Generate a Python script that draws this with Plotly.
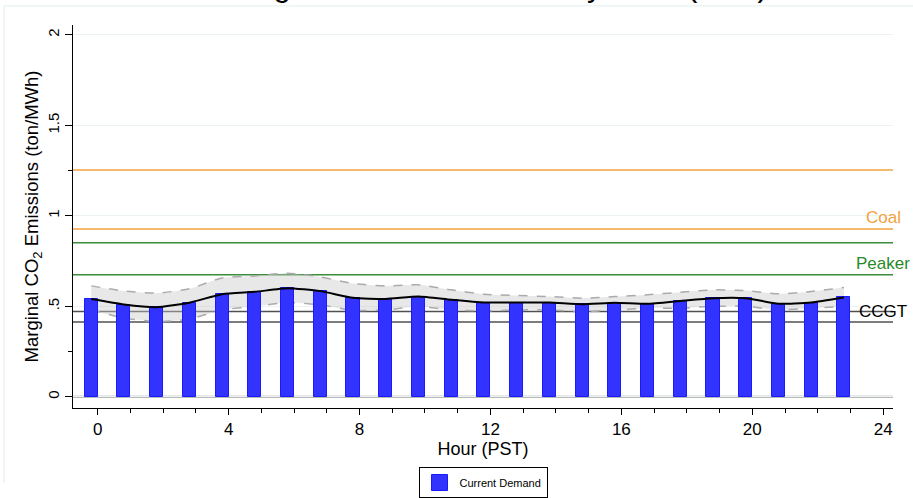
import plotly.graph_objects as go
import numpy as np

hours = list(range(24))
marginal_emissions = [0.54, 0.51, 0.495, 0.52, 0.567, 0.58, 0.60, 0.584, 0.547, 0.541,
                      0.554, 0.536, 0.521, 0.521, 0.521, 0.512, 0.52, 0.514, 0.53, 0.545,
                      0.545, 0.514, 0.521, 0.549]
upper_ci = [0.613, 0.585, 0.573, 0.597, 0.657, 0.668, 0.683, 0.663, 0.626, 0.613,
            0.619, 0.591, 0.567, 0.56, 0.554, 0.545, 0.554, 0.564, 0.578, 0.591,
            0.587, 0.569, 0.582, 0.604]
lower_ci = [0.48, 0.435, 0.416, 0.429, 0.48, 0.499, 0.521, 0.508, 0.478, 0.48,
            0.499, 0.48, 0.475, 0.48, 0.48, 0.47, 0.48, 0.49, 0.49, 0.5,
            0.5, 0.48, 0.49, 0.5]

coal_levels = [0.928, 1.254]
peaker_levels = [0.674, 0.851]
ccgt_levels = [0.413, 0.471]

y_tickvals = [0, 0.5, 1, 1.5, 2]
y_ticktext = ["0", ".5", "1", "1.5", "2"]
x_tickvals = [0, 4, 8, 12, 16, 20, 24]

FONT = "Liberation Sans, Arial, sans-serif"
ORANGE = "#F2A23F"
GREEN = "#3C8C3C"
GREEN_TXT = "#2A8A2A"
BLUE = "#3333FF"
BLUE_EDGE = "#1A1AFF"

X_RANGE = [-0.755, 24.3]
Y_RANGE = [-0.062, 2.055]

xc = np.array(hours) - 0.2

fig = go.Figure()

# confidence band (base subplot, beneath bars)
fig.add_trace(go.Scatter(x=xc, y=lower_ci, mode="lines",
                         line=dict(color="#ABABAB", width=1.5, dash="dash", shape="spline", smoothing=0.6),
                         showlegend=False, hoverinfo="skip", xaxis="x", yaxis="y"))
fig.add_trace(go.Scatter(x=xc, y=upper_ci, mode="lines", fill="tonexty",
                         fillcolor="rgba(200,200,200,0.42)",
                         line=dict(color="#ABABAB", width=1.5, dash="dash", shape="spline", smoothing=0.6),
                         showlegend=False, hoverinfo="skip", xaxis="x", yaxis="y"))

# bars (overlay subplot, drawn above band)
fig.add_trace(go.Bar(x=hours, y=marginal_emissions, width=0.4, offset=-0.4,
                     marker=dict(color=BLUE, line=dict(color=BLUE_EDGE, width=1)),
                     name="Current Demand", showlegend=False, xaxis="x2", yaxis="y2"))

# central line
fig.add_trace(go.Scatter(x=xc, y=marginal_emissions, mode="lines",
                         line=dict(color="black", width=2, shape="spline", smoothing=0.5),
                         showlegend=False, xaxis="x2", yaxis="y2"))

# legend proxy
fig.add_trace(go.Scatter(x=[None], y=[None], mode="markers", name="Current Demand",
                         marker=dict(symbol="square", size=16, color=BLUE,
                                     line=dict(color=BLUE_EDGE, width=1)),
                         xaxis="x2", yaxis="y2"))

shapes = []
for v in coal_levels:
    shapes.append(dict(type="line", xref="paper", x0=0, x1=1, yref="y", y0=v, y1=v,
                       line=dict(color=ORANGE, width=1.5), layer="below"))
for v in peaker_levels:
    shapes.append(dict(type="line", xref="paper", x0=0, x1=1, yref="y", y0=v, y1=v,
                       line=dict(color=GREEN, width=1.5), layer="below"))
for v in ccgt_levels:
    shapes.append(dict(type="line", xref="paper", x0=0, x1=1, yref="y", y0=v, y1=v,
                       line=dict(color="#505050", width=1.5), layer="below"))
shapes.append(dict(type="line", xref="paper", x0=0, x1=1, yref="y", y0=0, y1=0,
                   line=dict(color="#A0A0A0", width=2), layer="below"))
# faint outer frame (top and left edges)
shapes.append(dict(type="line", xref="paper", yref="paper", x0=-0.084, x1=1.1, y0=1.05, y1=1.05,
                   line=dict(color="#E4EEF0", width=1)))
shapes.append(dict(type="line", xref="paper", yref="paper", x0=-0.084, x1=-0.084, y0=1.05, y1=-0.196,
                   line=dict(color="#E4EEF0", width=1)))

annotations = [
    dict(x=24, y=coal_levels[0], xref="x", yref="y", text="Coal", showarrow=False,
         xanchor="center", yanchor="bottom", font=dict(family=FONT, size=17, color=ORANGE)),
    dict(x=24, y=peaker_levels[0], xref="x", yref="y", text="Peaker", showarrow=False,
         xanchor="center", yanchor="bottom", font=dict(family=FONT, size=17, color=GREEN_TXT)),
    dict(x=24, y=ccgt_levels[1], xref="x", yref="y", text="CCGT", showarrow=False,
         xanchor="center", yanchor="middle", font=dict(family=FONT, size=17, color="black")),
    dict(x=0.514, y=1, xref="paper", yref="paper", text="Marginal CO2 Emissions by Hour (PST)",
         showarrow=False, xanchor="center", yanchor="bottom", yshift=20,
         font=dict(family=FONT, size=31, color="black")),
]

fig.update_layout(
    width=913, height=498,
    margin=dict(l=73, r=20, t=25, b=90, autoexpand=False),
    paper_bgcolor="white", plot_bgcolor="white",
    font=dict(family=FONT, color="black"),
    shapes=shapes, annotations=annotations,
    bargap=0,
    legend=dict(orientation="h", x=0.5, xanchor="center", xref="paper",
                y=1 - 467 / 498, yanchor="top", yref="container",
                bordercolor="black", borderwidth=1, bgcolor="white",
                font=dict(family=FONT, size=11, color="black"), itemwidth=30),
    xaxis=dict(range=X_RANGE, tickmode="array", tickvals=x_tickvals,
               ticks="outside", ticklen=6, tickcolor="black", tickwidth=1,
               showline=True, linecolor="black", linewidth=1, showgrid=False, zeroline=False,
               tickfont=dict(family=FONT, size=17),
               minor=dict(tickmode="linear", tick0=0, dtick=1, ticks="outside", ticklen=4,
                          tickcolor="black", showgrid=False),
               title=dict(text="Hour (PST)", font=dict(family=FONT, size=18), standoff=2)),
    yaxis=dict(range=Y_RANGE, tickmode="array", tickvals=y_tickvals, ticktext=y_ticktext,
               tickangle=-90, ticks="outside", ticklen=7, tickcolor="black", tickwidth=1,
               showline=True, linecolor="black", linewidth=1,
               showgrid=True, gridcolor="#EAF2F3", gridwidth=1, zeroline=False,
               tickfont=dict(family=FONT, size=15),
               minor=dict(tickmode="array", tickvals=[0.25, 1.25], ticks="outside", ticklen=4,
                          tickcolor="black", showgrid=False),
               title=dict(text="Marginal CO<sub>2</sub> Emissions (ton/MWh)",
                          font=dict(family=FONT, size=18.5), standoff=1)),
    xaxis2=dict(range=X_RANGE, overlaying="x", visible=False),
    yaxis2=dict(range=Y_RANGE, overlaying="y", visible=False),
)

fig.write_html("out.html")
